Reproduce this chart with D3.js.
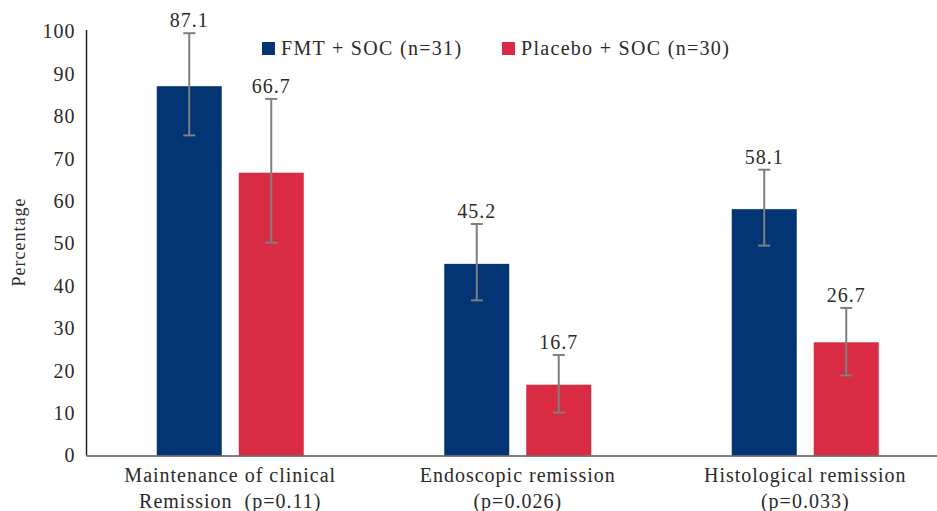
<!DOCTYPE html>
<html><head><meta charset="utf-8">
<script src="https://cdn.jsdelivr.net/npm/d3@7"></script>
<style>
html,body{margin:0;padding:0;background:#fff;overflow:hidden;}
</style></head>
<body><svg id="c" width="937" height="511"></svg>
<script>
const categories = [["Maintenance of clinical","Remission  (p=0.11)"],["Endoscopic remission","(p=0.026)"],["Histological remission","(p=0.033)"]];
const seriesNames = ["FMT + SOC (n=31)","Placebo + SOC (n=30)"];
const seriesColors = ["#033574","#D92B44"];
const fmtValues = [87.1, 45.2, 58.1];
const placeboValues = [66.7, 16.7, 26.7];
const fmtUpper = [99.6, 54.6, 67.4];
const fmtLower = [75.5, 36.6, 49.5];
const placeboUpper = [84.1, 23.7, 34.8];
const placeboLower = [50.2, 10.1, 18.9];
const yTicks = [0,10,20,30,40,50,60,70,80,90,100];

const FONT = "'Liberation Serif', 'Times New Roman', serif";

const svg = d3.select("#c");
const y = d3.scaleLinear().domain([0,100]).range([455.5,31.5]);
const x0 = d3.scaleBand().domain(d3.range(categories.length)).range([86.5,949]);
const bw = 65, gap = 17;

const series = [
  {vals: fmtValues, up: fmtUpper, lo: fmtLower},
  {vals: placeboValues, up: placeboUpper, lo: placeboLower}
];

const yAxis = d3.axisLeft(y).tickValues(yTicks).tickSize(0).tickPadding(11);
const gy = svg.append("g").attr("transform","translate(86.5,0)").call(yAxis);
gy.attr("font-family", FONT);
gy.select(".domain").attr("stroke","#222").attr("stroke-width",1.5).attr("d","M0,30V455.5");
gy.selectAll("text").style("font-size","20px").style("letter-spacing","1px").attr("fill","#2a2a2a");

series.forEach((s,si)=>{
  const g = svg.append("g");
  const offs = i => x0(i) + (x0.bandwidth() - (2*bw+gap))/2 + si*(bw+gap);
  g.selectAll("rect").data(s.vals).join("rect")
    .attr("x",(d,i)=>offs(i)).attr("width",bw)
    .attr("y",d=>y(d)).attr("height",d=>y(0)-y(d))
    .attr("fill",seriesColors[si]);
  s.vals.forEach((v,i)=>{
    const cx = offs(i)+bw/2;
    const e = svg.append("g").attr("stroke","#7f7f7f").attr("stroke-width",2);
    e.append("line").attr("x1",cx).attr("x2",cx).attr("y1",y(s.up[i])).attr("y2",y(s.lo[i]));
    e.append("line").attr("x1",cx-6).attr("x2",cx+6).attr("y1",y(s.up[i])).attr("y2",y(s.up[i]));
    e.append("line").attr("x1",cx-6).attr("x2",cx+6).attr("y1",y(s.lo[i])).attr("y2",y(s.lo[i]));
    svg.append("text").attr("x",cx).attr("y",y(s.up[i])-6).attr("text-anchor","middle")
      .attr("font-family",FONT).attr("fill","#2a2a2a")
      .style("font-size","20px").style("letter-spacing","1px").text(v.toFixed(1));
  });
});

svg.append("line").attr("x1",86.5).attr("x2",949).attr("y1",456).attr("y2",456).attr("stroke","#555").attr("stroke-width",1.5);

categories.forEach((c,i)=>{
  const cx = x0(i)+x0.bandwidth()/2;
  c.forEach((line,li)=>{
    svg.append("text").attr("x",cx).attr("y",482+li*26).attr("text-anchor","middle")
      .attr("font-family",FONT).attr("fill","#2a2a2a").style("white-space","pre")
      .style("font-size","20px").style("letter-spacing","1px").text(line);
  });
});

svg.append("text").attr("transform","translate(25,242) rotate(-90)").attr("text-anchor","middle")
  .attr("font-family",FONT).attr("fill","#2a2a2a")
  .style("font-size","18px").style("letter-spacing","1px").text("Percentage");

const legX = [262, 502];
seriesNames.forEach((n,i)=>{
  svg.append("rect").attr("x",legX[i]).attr("y",42).attr("width",13).attr("height",13).attr("fill",seriesColors[i]);
  svg.append("text").attr("x",legX[i]+19).attr("y",55).attr("font-family",FONT).attr("fill","#2a2a2a")
    .style("font-size","20px").style("letter-spacing","1.3px").text(n);
});
</script></body></html>
